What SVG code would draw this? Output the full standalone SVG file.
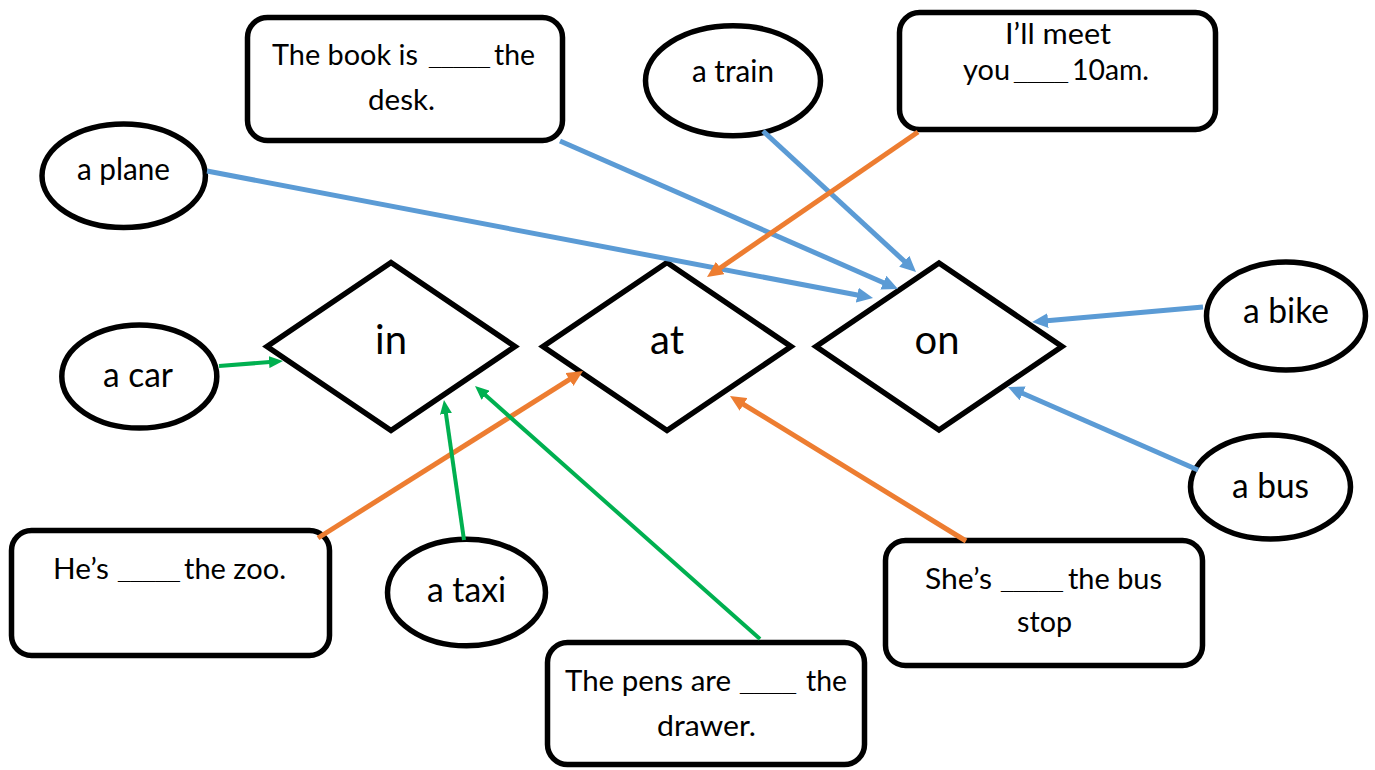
<svg xmlns="http://www.w3.org/2000/svg" width="1375" height="770" viewBox="0 0 1375 770">
<style>
.shape{fill:#fff;stroke:#000;stroke-width:5.5;}
.dia{fill:#fff;stroke:#000;stroke-width:5.5;stroke-linejoin:miter;}
.t{font-family:Lato,"Liberation Sans",sans-serif;fill:#000;}
.u{font-family:"Liberation Sans",Arial,sans-serif;font-weight:bold;}
.bx{font-size:29px;}
.el{font-size:35px;text-anchor:middle;}
.els{font-size:31px;text-anchor:middle;}
.dl{font-size:40px;text-anchor:middle;}
.blue{stroke:#5B9BD5;stroke-width:5;fill:none;marker-end:url(#ab);}
.orange{stroke:#ED7D31;stroke-width:5;fill:none;marker-end:url(#ao);}
.green{stroke:#00B050;stroke-width:4;fill:none;marker-end:url(#ag);}
</style>
<defs>
<marker id="ab" markerUnits="userSpaceOnUse" markerWidth="16" markerHeight="15" refX="4" refY="7.5" orient="auto"><path d="M0,0 L16,7.5 L0,15 z" fill="#5B9BD5"/></marker>
<marker id="ao" markerUnits="userSpaceOnUse" markerWidth="16" markerHeight="15" refX="4" refY="7.5" orient="auto"><path d="M0,0 L16,7.5 L0,15 z" fill="#ED7D31"/></marker>
<marker id="ag" markerUnits="userSpaceOnUse" markerWidth="14" markerHeight="12" refX="4" refY="6" orient="auto"><path d="M0,0 L14,6 L0,12 z" fill="#00B050"/></marker>
</defs>
<rect width="1375" height="770" fill="#fff"/>

<g id="node-in"><polygon class="dia" points="267,346.5 391,262.5 515,346.5 391,430.5"/><text class="t dl" x="391" y="354">in</text></g>
<g id="node-at"><polygon class="dia" points="543,346.5 667,262.5 791,346.5 667,430.5"/><text class="t dl" x="667" y="354">at</text></g>
<g id="node-on"><polygon class="dia" points="816,346.5 939,263 1062,346.5 939,430"/><text class="t dl" x="937" y="354">on</text></g>

<g id="node-plane"><ellipse class="shape" cx="123.7" cy="175.7" rx="81.7" ry="51.8"/><text class="t els" x="123.5" y="180" textLength="93" lengthAdjust="spacingAndGlyphs">a plane</text></g>
<g id="node-car"><ellipse class="shape" cx="139.3" cy="376.5" rx="77.5" ry="51.5"/><text class="t el" x="138" y="387" textLength="70" lengthAdjust="spacingAndGlyphs">a car</text></g>
<g id="node-train"><ellipse class="shape" cx="733" cy="80.8" rx="87.5" ry="55"/><text class="t els" x="733" y="82" textLength="82" lengthAdjust="spacingAndGlyphs">a train</text></g>
<g id="node-bike"><ellipse class="shape" cx="1286" cy="316" rx="79.5" ry="54"/><text class="t el" x="1286" y="323" textLength="86" lengthAdjust="spacingAndGlyphs">a bike</text></g>
<g id="node-bus"><ellipse class="shape" cx="1270.5" cy="487" rx="80" ry="52"/><text class="t el" x="1270.5" y="498" textLength="77" lengthAdjust="spacingAndGlyphs">a bus</text></g>
<g id="node-taxi"><ellipse class="shape" cx="466.5" cy="592.5" rx="79" ry="53.3"/><text class="t el" x="466.5" y="602" textLength="79" lengthAdjust="spacingAndGlyphs">a taxi</text></g>

<g id="node-book"><rect class="shape" x="247.5" y="17.5" width="315" height="123" rx="20"/>
<text class="t bx" y="65"><tspan x="272" textLength="146" lengthAdjust="spacingAndGlyphs">The book is</tspan><tspan class="u" x="429" font-size="22" textLength="61" lengthAdjust="spacingAndGlyphs">_____</tspan><tspan x="494" textLength="41" lengthAdjust="spacingAndGlyphs">the</tspan></text>
<text class="t bx" x="368" y="110" textLength="67" lengthAdjust="spacingAndGlyphs">desk.</text></g>

<g id="node-meet"><rect class="shape" x="899.5" y="12.5" width="316" height="117" rx="20"/>
<text class="t bx" x="1005" y="44" textLength="106" lengthAdjust="spacingAndGlyphs">I’ll meet</text>
<text class="t bx" y="80"><tspan x="963" textLength="47" lengthAdjust="spacingAndGlyphs">you</tspan><tspan class="u" x="1014" font-size="24" textLength="54" lengthAdjust="spacingAndGlyphs">____</tspan><tspan x="1072" textLength="77" lengthAdjust="spacingAndGlyphs">10am.</tspan></text></g>

<g id="node-zoo"><rect class="shape" x="11.5" y="530.5" width="318" height="125" rx="20"/>
<text class="t bx" y="579"><tspan x="53" textLength="56" lengthAdjust="spacingAndGlyphs">He’s</tspan><tspan class="u" x="118" font-size="22" textLength="62" lengthAdjust="spacingAndGlyphs">_____</tspan><tspan x="184" textLength="102" lengthAdjust="spacingAndGlyphs">the zoo.</tspan></text></g>

<g id="node-pens"><rect class="shape" x="547.5" y="642.5" width="317" height="122" rx="20"/>
<text class="t bx" y="691"><tspan x="565" textLength="166" lengthAdjust="spacingAndGlyphs">The pens are</tspan><tspan class="u" x="740" font-size="24" textLength="56" lengthAdjust="spacingAndGlyphs">____</tspan><tspan x="806" textLength="41" lengthAdjust="spacingAndGlyphs">the</tspan></text>
<text class="t bx" x="657" y="736" textLength="99" lengthAdjust="spacingAndGlyphs">drawer.</text></g>

<g id="node-busstop"><rect class="shape" x="885.5" y="540.5" width="317" height="125" rx="20"/>
<text class="t bx" y="589"><tspan x="925" textLength="67" lengthAdjust="spacingAndGlyphs">She’s</tspan><tspan class="u" x="1001" font-size="22" textLength="62" lengthAdjust="spacingAndGlyphs">_____</tspan><tspan x="1068" textLength="94" lengthAdjust="spacingAndGlyphs">the bus</tspan></text>
<text class="t bx" x="1017" y="632" textLength="55" lengthAdjust="spacingAndGlyphs">stop</text></g>

<g id="connectors">
<line class="blue" x1="207" y1="171" x2="861.2" y2="295.8"/>
<line class="blue" x1="560" y1="141" x2="887" y2="284.2"/>
<line class="blue" x1="763" y1="131" x2="907.2" y2="263.9"/>
<line class="blue" x1="1203" y1="307" x2="1044" y2="321"/>
<line class="blue" x1="1198" y1="470" x2="1019" y2="391.8"/>
<line class="orange" x1="918" y1="132" x2="716.9" y2="270.2"/>
<line class="orange" x1="318" y1="538" x2="572.8" y2="377.4"/>
<line class="orange" x1="966" y1="541" x2="740.2" y2="402.3"/>
<line class="green" x1="219" y1="366" x2="273" y2="361.8"/>
<line class="green" x1="464" y1="540" x2="445.4" y2="409.9"/>
<line class="green" x1="760" y1="639" x2="482.5" y2="392.6"/>
</g>
</svg>
